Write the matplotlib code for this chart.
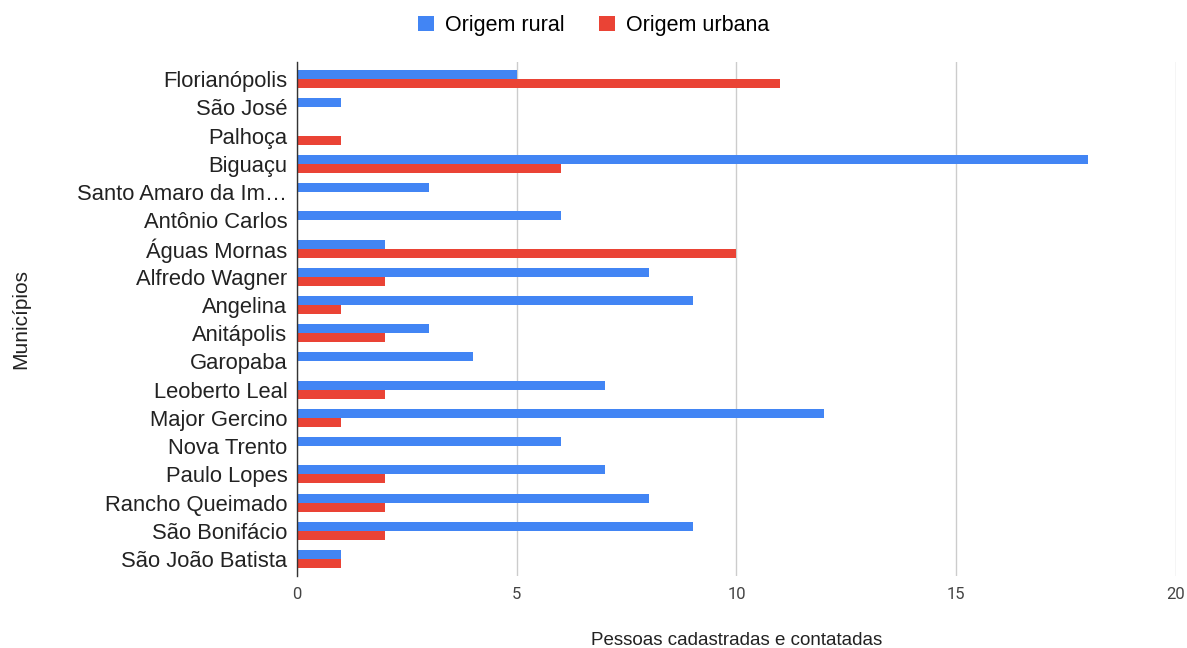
import matplotlib
matplotlib.use("Agg")
import matplotlib.pyplot as plt
import numpy as np

plt.rcParams['font.family'] = ['Liberation Sans', 'DejaVu Sans']

municipios = ["Florianópolis", "São José", "Palhoça", "Biguaçu", "Santo Amaro da Im…",
              "Antônio Carlos", "Águas Mornas", "Alfredo Wagner", "Angelina", "Anitápolis",
              "Garopaba", "Leoberto Leal", "Major Gercino", "Nova Trento", "Paulo Lopes",
              "Rancho Queimado", "São Bonifácio", "São João Batista"]
rural = [5, 1, 0, 18, 3, 6, 2, 8, 9, 3, 4, 7, 12, 6, 7, 8, 9, 1]
urbana = [11, 0, 1, 6, 0, 0, 10, 2, 1, 2, 0, 2, 1, 0, 2, 2, 2, 1]
xticks = [0, 5, 10, 15, 20]

fig = plt.figure(figsize=(11.87, 6.48), dpi=100)
ax = fig.add_axes([0.2502, 0.111, 0.7405, 0.793])

y = np.arange(len(municipios))
h = 0.32
c_r = "#4285f4"
c_u = "#ea4335"
ax.barh(y - h / 2, rural, height=h, color=c_r, label="Origem rural", zorder=3)
ax.barh(y + h / 2, urbana, height=h, color=c_u, label="Origem urbana", zorder=3)

ax.set_ylim(len(municipios) - 0.4, -0.6)
ax.set_xlim(0, 20)
ax.set_xticks(xticks)
ax.set_xticklabels([str(t) for t in xticks], fontsize=12, color="#444444", family=['Roboto', 'DejaVu Sans'])
ax.set_yticks(y)
ax.set_yticklabels(municipios, fontsize=15.8, color="#222222")
ax.tick_params(axis='both', length=0)
ax.tick_params(axis='x', pad=8)
ax.tick_params(axis='y', pad=7)
ax.grid(axis='x', color="#cccccc", linewidth=1, zorder=0)
for s in ["top", "right", "bottom"]:
    ax.spines[s].set_visible(False)
ax.spines["left"].set_color("#333333")
ax.spines["left"].set_linewidth(1)
ax.spines["left"].set_zorder(4)

ax.set_xlabel("Pessoas cadastradas e contatadas", fontsize=13.5, color="#222222")
ax.xaxis.label.set_va('center')
ax.xaxis.set_label_coords(0.5, -0.125)
ax.set_ylabel("Municípios", fontsize=15, color="#222222")
ax.yaxis.set_label_coords(-0.303, 0.5)

fig.legend(loc="upper center", bbox_to_anchor=(0.5, 1.0), ncol=2, frameon=False,
           fontsize=15.5, handlelength=0.75, handleheight=0.75, columnspacing=1.6, handletextpad=0.5,
           borderaxespad=0.3)

fig.savefig("out.png", dpi=100, facecolor="white")
